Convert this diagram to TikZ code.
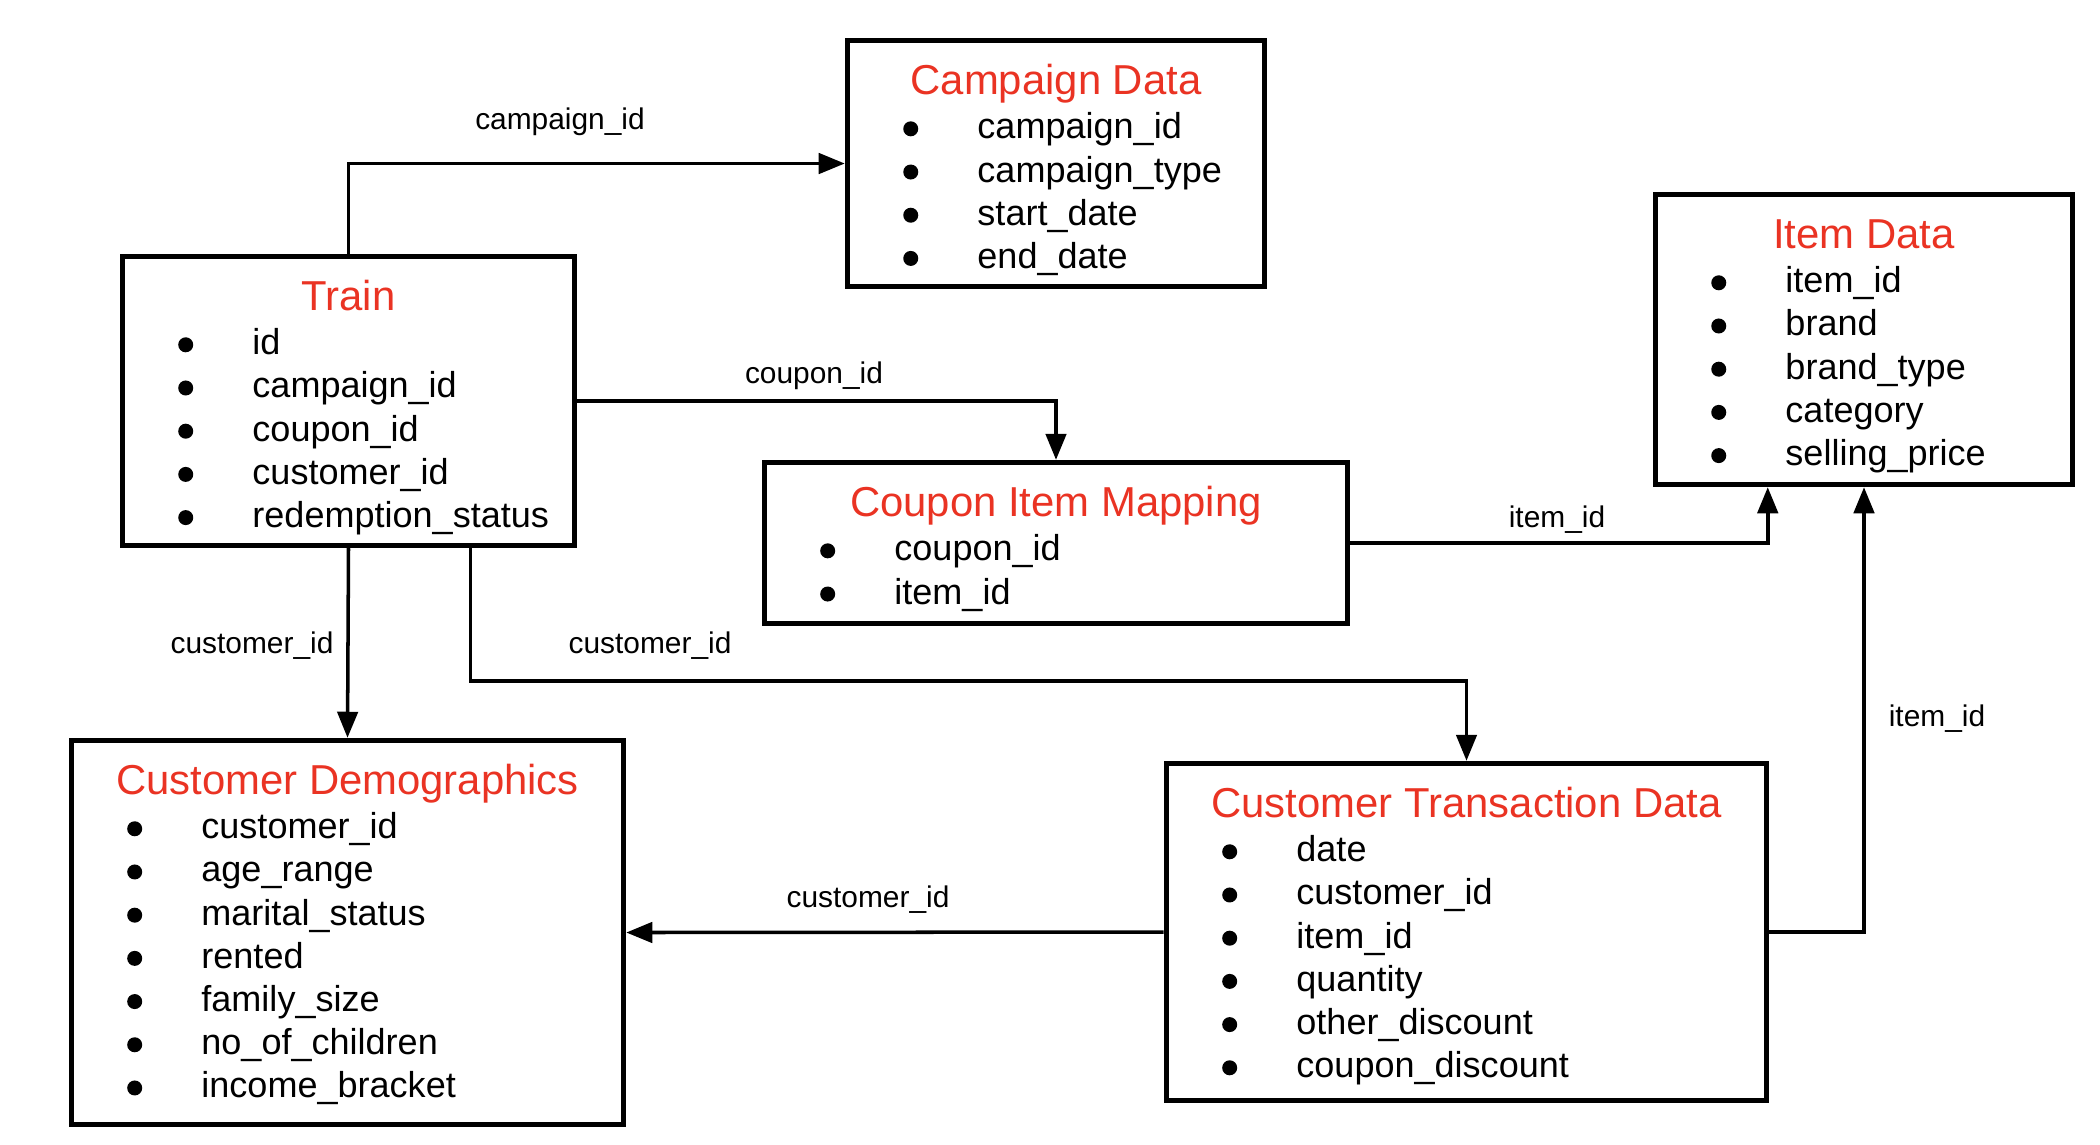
\documentclass[tikz,border=0pt]{standalone}
\usepackage{fontspec}
\setmainfont{Liberation Sans}
\usetikzlibrary{arrows.meta, calc}
\definecolor{TableRed}{RGB}{234, 51, 35}

\begin{document}
\begin{tikzpicture}[
        x=0.01cm, y=-0.01cm,
        entity/.style={rectangle, draw=black, line width=1.5pt, fill=white, inner sep=0pt},
        etitle/.style={anchor=base, text=TableRed, inner sep=0pt, font=\fontsize{11.9}{14}\selectfont},
        field/.style={anchor=base west, inner sep=0pt, font=\fontsize{10.25}{12}\selectfont},
        bulletdot/.style={circle, fill=black, inner sep=0pt, minimum size=0.15cm},
        link/.style={-{Triangle[length=7.4pt, width=5.8pt]}, line width=1pt},
        lbl/.style={anchor=base, inner sep=0pt, font=\fontsize{8.5}{10}\selectfont}
    ]
        \useasboundingbox (0,0) rectangle (2100,1144);

        % tables
        \node[entity, minimum width=4.52cm, minimum height=2.89cm] (train) at (348.5,401) {};
        \node[entity, minimum width=4.17cm, minimum height=2.46cm] (campaign) at (1056,163.5) {};
        \node[entity, minimum width=5.83cm, minimum height=1.61cm] (coupon) at (1056,543) {};
        \node[entity, minimum width=4.17cm, minimum height=2.90cm] (item) at (1864,339.5) {};
        \node[entity, minimum width=5.52cm, minimum height=3.84cm] (demo) at (347.5,932.5) {};
        \node[entity, minimum width=6.00cm, minimum height=3.37cm] (trans) at (1466.5,932) {};

        % titles and fields
        \foreach \ent/\ttl/\fields in {
            train/Train/{id, campaign\_id, coupon\_id, customer\_id, redemption\_status},
            campaign/Campaign Data/{campaign\_id, campaign\_type, start\_date, end\_date},
            coupon/Coupon Item Mapping/{coupon\_id, item\_id},
            item/Item Data/{item\_id, brand, brand\_type, category, selling\_price},
            demo/Customer Demographics/{customer\_id, age\_range, marital\_status, rented, family\_size, no\_of\_children, income\_bracket},
            trans/Customer Transaction Data/{date, customer\_id, item\_id, quantity, other\_discount, coupon\_discount}} {
            \node[etitle] (\ent-title) at ($(\ent.north)+(0,57)$) {\ttl};
            \foreach \f [count=\i] in \fields {
                \node[bulletdot] (\ent-b\i) at ($(\ent.north west)+(66,{91+43.2*(\i-1)})$) {};
                \node[field] (\ent-\i) at ($(\ent.north west)+(132,{101+43.2*(\i-1)})$) {\f};
            }
        }

        % keys
        \coordinate (item-in) at ($(item.south west)+(115,0)$);
        \coordinate (train-out) at ($(train.south east)+(-107,0)$);

        \draw[link] (train.north) |- (campaign.west);
        \draw[link] (train.east) -| (coupon.north);
        \draw[link] (coupon.east) -| (item-in);
        \draw[link] (train.south) -- (demo.north);
        \draw[link] (train-out) -- ++(0,133) -| (trans.north);
        \draw[link] (trans.west) -- (demo.east);
        \draw[link] (trans.east) -| (item.south);

        \node[lbl] (lbl-campaign) at (560,129) {campaign\_id};
        \node[lbl] (lbl-coupon) at (814,383) {coupon\_id};
        \node[lbl] (lbl-item-a) at (1557,527) {item\_id};
        \node[lbl] (lbl-cust-a) at (252,653) {customer\_id};
        \node[lbl] (lbl-cust-b) at (650,653) {customer\_id};
        \node[lbl] (lbl-cust-c) at (868,907) {customer\_id};
        \node[lbl] (lbl-item-b) at (1937,726) {item\_id};

    \end{tikzpicture}
\end{document}
